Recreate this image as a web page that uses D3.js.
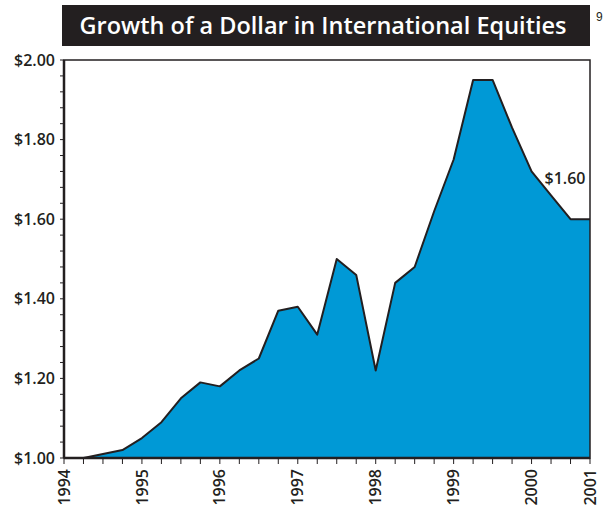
<!DOCTYPE html>
<html>
<head>
<meta charset="utf-8">
<script src="https://cdn.jsdelivr.net/npm/d3@7"></script>
<style>
  body { margin: 0; background: #fff; }
  svg { display: block; }
</style>
</head>
<body>
<svg id="chart" width="603" height="511"></svg>
<script>
// quarterly values, 1994 Q1 .. 2000 Q4
var quarters = d3.range(28);
var values = [1.00, 1.00, 1.01, 1.02, 1.05, 1.09, 1.15, 1.19,
              1.18, 1.22, 1.25, 1.37, 1.38, 1.31, 1.50, 1.46,
              1.22, 1.44, 1.48, 1.62, 1.75, 1.95, 1.95, 1.83,
              1.72, 1.66, 1.60, 1.60];
var yearLabels = ["1994", "1995", "1996", "1997", "1998", "1999", "2000", "2001"];
var yearPos = [0, 4, 8, 12, 16, 20, 24, 27];
var yTicks = [1.00, 1.20, 1.40, 1.60, 1.80, 2.00];

var svg = d3.select("#chart");
var plotLeft = 64, plotRight = 590, plotTop = 60, plotBottom = 458;

var x = d3.scaleLinear().domain([0, 27]).range([plotLeft, plotRight]);
var y = d3.scaleLinear().domain([1, 2]).range([plotBottom, plotTop]);

// title bar
svg.append("rect")
  .attr("x", 62).attr("y", 5)
  .attr("width", 528).attr("height", 41)
  .attr("fill", "#231f20");
svg.append("text")
  .attr("x", 323).attr("y", 34)
  .attr("text-anchor", "middle")
  .attr("font-family", "'Open Sans', sans-serif")
  .attr("font-weight", "600")
  .attr("font-size", "23.5px")
  .attr("fill", "#fff")
  .text("Growth of a Dollar in International Equities");

// page number
svg.append("text")
  .attr("x", 596).attr("y", 21)
  .attr("font-family", "'Liberation Sans', Arial, sans-serif")
  .attr("font-size", "12px")
  .attr("fill", "#231f20")
  .text("9");

// area
var area = d3.area()
  .x(function(d, i) { return x(quarters[i]); })
  .y0(y(1))
  .y1(function(d) { return y(d); });
var line = d3.line()
  .x(function(d, i) { return x(quarters[i]); })
  .y(function(d) { return y(d); });

svg.append("path")
  .datum(values)
  .attr("d", area)
  .attr("fill", "#0099d6");
svg.append("path")
  .datum(values)
  .attr("d", line)
  .attr("fill", "none")
  .attr("stroke", "#231f20")
  .attr("stroke-width", 2)
  .attr("stroke-linejoin", "round");

// frame
svg.append("rect")
  .attr("x", plotLeft).attr("y", plotTop)
  .attr("width", plotRight - plotLeft).attr("height", plotBottom - plotTop)
  .attr("fill", "none")
  .attr("stroke", "#231f20")
  .attr("stroke-width", 1.5);

// y axis: minor ticks every 0.04, labels every 0.20
var yAxis = svg.append("g").attr("transform", "translate(" + plotLeft + ",0)");
yAxis.selectAll("line.minor")
  .data(d3.range(0, 26).map(function(k) { return 1 + k * 0.04; }))
  .enter().append("line")
  .attr("x1", -4).attr("x2", 0)
  .attr("y1", function(d) { return y(d); })
  .attr("y2", function(d) { return y(d); })
  .attr("stroke", "#231f20").attr("stroke-width", 1);
yAxis.append("line")
  .attr("x1", 0).attr("x2", 0).attr("y1", plotTop).attr("y2", plotBottom)
  .attr("stroke", "#231f20").attr("stroke-width", 2.5);
yAxis.selectAll("text")
  .data(yTicks)
  .enter().append("text")
  .attr("x", -9)
  .attr("y", function(d) { return y(d); })
  .attr("dy", "0.35em")
  .attr("text-anchor", "end")
  .attr("font-family", "'Open Sans', sans-serif")
  .attr("font-weight", "600")
  .attr("font-size", "16px")
  .attr("fill", "#231f20")
  .text(function(d) { return "$" + d.toFixed(2); });

// x axis: quarterly ticks, year labels rotated
var xAxis = svg.append("g").attr("transform", "translate(0," + plotBottom + ")");
xAxis.append("line")
  .attr("x1", plotLeft).attr("x2", plotRight)
  .attr("stroke", "#231f20").attr("stroke-width", 2.5);
xAxis.selectAll("line.tick")
  .data(quarters)
  .enter().append("line")
  .attr("x1", function(d) { return x(d); })
  .attr("x2", function(d) { return x(d); })
  .attr("y1", 0).attr("y2", 6)
  .attr("stroke", "#231f20").attr("stroke-width", 1);
xAxis.selectAll("text")
  .data(yearLabels)
  .enter().append("text")
  .attr("transform", function(d, i) {
    return "translate(" + x(yearPos[i]) + ",11) rotate(-90)";
  })
  .attr("dy", "0.35em")
  .attr("text-anchor", "end")
  .attr("font-family", "'Open Sans', sans-serif")
  .attr("font-weight", "600")
  .attr("font-size", "16px")
  .attr("fill", "#231f20")
  .text(function(d) { return d; });

// end value label
svg.append("text")
  .attr("x", 565)
  .attr("y", y(values[24]) + 7)
  .attr("dy", "0.35em")
  .attr("text-anchor", "middle")
  .attr("font-family", "'Open Sans', sans-serif")
  .attr("font-weight", "600")
  .attr("font-size", "16px")
  .attr("fill", "#231f20")
  .text("$" + values[27].toFixed(2));
</script>
</body>
</html>
